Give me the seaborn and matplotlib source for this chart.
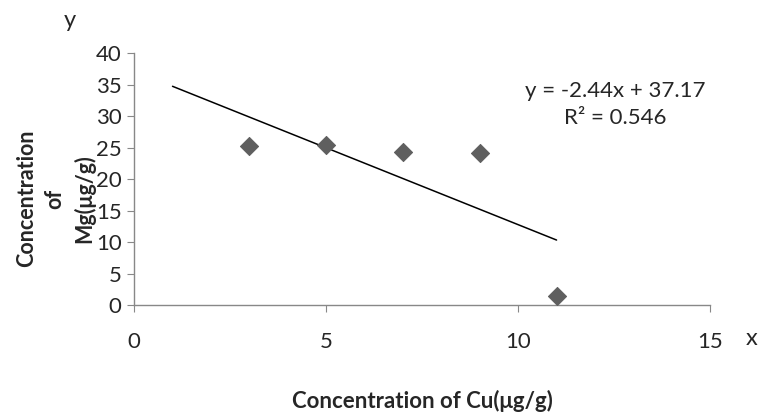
import numpy as np
import matplotlib
matplotlib.use("Agg")
import matplotlib.pyplot as plt
import seaborn as sns

# data
cu = [3, 5, 7, 9, 11]
mg = [25.2, 25.4, 24.3, 24.1, 1.45]
eq_text = "y = -2.44x + 37.17\nR² = 0.546"

sns.set_style("white")
plt.rcParams['font.family'] = ['Lato', 'DejaVu Sans']

fig = plt.figure(figsize=(7.62, 4.18), dpi=100)
ax = fig.add_axes([0.176, 0.270, 0.756, 0.603])

sns.scatterplot(x=cu, y=mg, marker='D', s=85, color='#5f5f5f', edgecolor='#5f5f5f', ax=ax, zorder=3)

# linear trendline, forecast backward 2 units like excel
slope, icpt = np.polyfit(cu, mg, 1)
xs = np.array([min(cu) - 2, max(cu)])
ax.plot(xs, slope * xs + icpt, color='black', lw=1.1)

ax.text(0.835, 0.795, eq_text, transform=ax.transAxes,
        ha='center', va='center', fontsize=16, linespacing=1.45)

ax.set_xlim(0, 15)
ax.set_ylim(0, 40)
ax.set_xticks([0, 5, 10, 15])
ax.set_yticks(range(0, 41, 5))
sns.despine(ax=ax)
for s in ['left', 'bottom']:
    ax.spines[s].set_color('#888888')
    ax.spines[s].set_linewidth(1.0)
ax.tick_params(axis='both', which='major', direction='out', length=5, color='#888888', labelsize=16)
ax.tick_params(axis='x', pad=14, bottom=True)
ax.tick_params(axis='y', pad=4, left=True)

ax.set_xlabel("Concentration of Cu(μg/g)", fontsize=16, fontweight='bold', labelpad=28)
fig.text(0.073, 0.525, "Concentration\nof\nMg(μg/g)", rotation=90, ha='center', va='center',
         fontsize=15.5, fontweight='bold', multialignment='center', linespacing=1.45)
fig.text(0.092, 0.95, "y", fontsize=17, ha='center', va='center')
fig.text(0.987, 0.19, "x", fontsize=17, ha='center', va='center')

fig.savefig("out.png", dpi=100)
